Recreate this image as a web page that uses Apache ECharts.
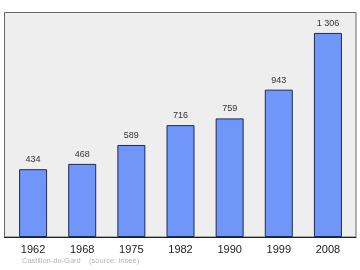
<!DOCTYPE html>
<html><head><meta charset="utf-8">
<script src="https://cdn.jsdelivr.net/npm/echarts@6/dist/echarts.min.js"></script>
<style>html,body{margin:0;padding:0;background:#fff}#c{width:360px;height:270px}</style>
</head><body><div id="c"></div>
<script>
var categories = ['1962','1968','1975','1982','1990','1999','2008'];
var population = [434, 468, 589, 716, 759, 943, 1306];
var labelTexts = ['434','468','589','716','759','943','1 306'];
var sourceText = 'Castillon-du-Gard    (source: Insee)';

var chart = echarts.init(document.getElementById('c'), null, {renderer:'canvas'});
chart.setOption({
  animation:false,
  backgroundColor:'#fff',
  graphic:[
    {type:'rect', z:-10, shape:{x:4.5,y:12.5,width:351.5,height:224.5}, style:{fill:'#eeeeee', stroke:'#666666', lineWidth:1}},
    {type:'line', z:10, shape:{x1:4,y1:237.5,x2:356.5,y2:237.5}, style:{stroke:'#222', lineWidth:1}},
    {type:'text', left:22, top:257, style:{text:sourceText, fill:'#b5b5b5', font:'7.5px "Liberation Sans", Arial, sans-serif'}}
  ],
  grid:{left:8.5, right:7.5, top:12, bottom:33, containLabel:false},
  xAxis:{type:'category', data:categories, boundaryGap:true,
    axisLine:{show:false}, axisTick:{show:false},
    axisLabel:{color:'#222', fontSize:11, fontFamily:'"Liberation Sans", Arial, sans-serif', margin:7}},
  yAxis:{type:'value', min:0, max:1440, show:false, splitLine:{show:false}},
  series:[{type:'bar', data:population, barWidth:28,
    itemStyle:{color:'#6f96f8', borderColor:'#1c2a55', borderWidth:1},
    label:{show:true, position:'top', distance:5, color:'#333', fontSize:9,
      fontFamily:'"Liberation Sans", Arial, sans-serif',
      formatter:function(p){return labelTexts[p.dataIndex];}}}]
});
</script></body></html>
